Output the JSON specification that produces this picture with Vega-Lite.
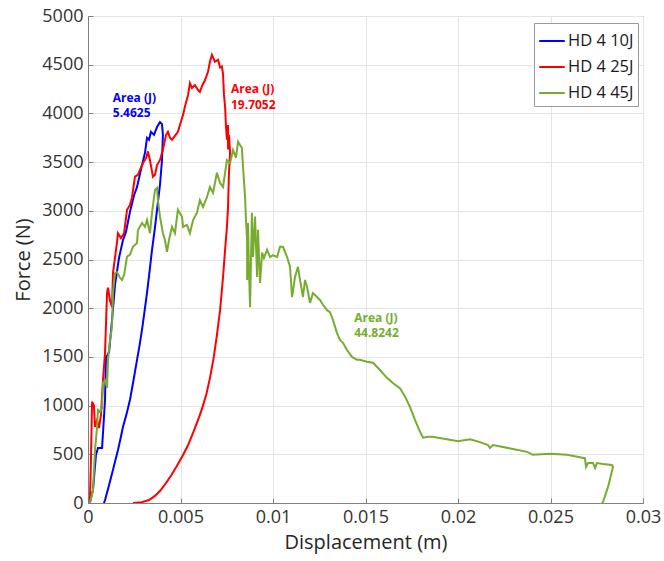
{
  "$schema": "https://vega.github.io/schema/vega-lite/v6.json",
  "width": 555,
  "height": 487,
  "autosize": {"type": "none"},
  "padding": {"left": 88, "top": 16, "right": 21, "bottom": 58},
  "background": "white",
  "config": {
    "view": {"stroke": "#808080", "strokeWidth": 1},
    "font": "Open Sans",
    "axis": {
      "labelFont": "Open Sans", "titleFont": "Open Sans",
      "labelFontSize": 18, "titleFontSize": 20, "labelColor": "#333333", "titleColor": "#262626",
      "titleFontWeight": "normal", "domainColor": "#808080", "tickColor": "#808080",
      "gridColor": "#e4e4e4", "gridWidth": 1
    }
  },
  "datasets": {
    "curves": [
      {"s":"HD 4 10J","i":0,"x":0.0001,"y":0},{"s":"HD 4 10J","i":1,"x":0.00027,"y":134},{"s":"HD 4 10J","i":2,"x":0.00043,"y":493},{"s":"HD 4 10J","i":3,"x":0.00054,"y":565},{"s":"HD 4 10J","i":4,"x":0.00076,"y":565},{"s":"HD 4 10J","i":5,"x":0.00092,"y":1058},{"s":"HD 4 10J","i":6,"x":0.00097,"y":1490},{"s":"HD 4 10J","i":7,"x":0.00114,"y":1550},{"s":"HD 4 10J","i":8,"x":0.0013,"y":1880},{"s":"HD 4 10J","i":9,"x":0.00146,"y":2240},{"s":"HD 4 10J","i":10,"x":0.00168,"y":2520},{"s":"HD 4 10J","i":11,"x":0.00189,"y":2700},{"s":"HD 4 10J","i":12,"x":0.00205,"y":2780},{"s":"HD 4 10J","i":13,"x":0.00227,"y":2990},{"s":"HD 4 10J","i":14,"x":0.00249,"y":3160},{"s":"HD 4 10J","i":15,"x":0.00265,"y":3245},{"s":"HD 4 10J","i":16,"x":0.00286,"y":3420},{"s":"HD 4 10J","i":17,"x":0.00308,"y":3595},{"s":"HD 4 10J","i":18,"x":0.00319,"y":3750},{"s":"HD 4 10J","i":19,"x":0.0033,"y":3730},{"s":"HD 4 10J","i":20,"x":0.0034,"y":3810},{"s":"HD 4 10J","i":21,"x":0.00357,"y":3780},{"s":"HD 4 10J","i":22,"x":0.00373,"y":3860},{"s":"HD 4 10J","i":23,"x":0.00389,"y":3910},{"s":"HD 4 10J","i":24,"x":0.004,"y":3890},{"s":"HD 4 10J","i":25,"x":0.00405,"y":3780},{"s":"HD 4 10J","i":26,"x":0.004,"y":3520},{"s":"HD 4 10J","i":27,"x":0.00389,"y":3265},{"s":"HD 4 10J","i":28,"x":0.00373,"y":3010},{"s":"HD 4 10J","i":29,"x":0.0036,"y":2800},{"s":"HD 4 10J","i":30,"x":0.00346,"y":2600},{"s":"HD 4 10J","i":31,"x":0.00333,"y":2380},{"s":"HD 4 10J","i":32,"x":0.00319,"y":2160},{"s":"HD 4 10J","i":33,"x":0.00305,"y":1960},{"s":"HD 4 10J","i":34,"x":0.00292,"y":1780},{"s":"HD 4 10J","i":35,"x":0.00278,"y":1610},{"s":"HD 4 10J","i":36,"x":0.00265,"y":1470},{"s":"HD 4 10J","i":37,"x":0.00246,"y":1260},{"s":"HD 4 10J","i":38,"x":0.00227,"y":1060},{"s":"HD 4 10J","i":39,"x":0.00208,"y":910},{"s":"HD 4 10J","i":40,"x":0.00189,"y":780},{"s":"HD 4 10J","i":41,"x":0.00175,"y":655},{"s":"HD 4 10J","i":42,"x":0.00162,"y":545},{"s":"HD 4 10J","i":43,"x":0.00148,"y":440},{"s":"HD 4 10J","i":44,"x":0.00135,"y":340},{"s":"HD 4 10J","i":45,"x":0.00124,"y":260},{"s":"HD 4 10J","i":46,"x":0.00114,"y":185},{"s":"HD 4 10J","i":47,"x":0.00102,"y":100},{"s":"HD 4 10J","i":48,"x":0.00092,"y":30},{"s":"HD 4 10J","i":49,"x":0.00086,"y":0},

      {"s":"HD 4 25J","i":0,"x":0.0001,"y":0},{"s":"HD 4 25J","i":1,"x":0.00016,"y":440},{"s":"HD 4 25J","i":2,"x":0.00022,"y":1040},{"s":"HD 4 25J","i":3,"x":0.00032,"y":1000},{"s":"HD 4 25J","i":4,"x":0.00038,"y":780},{"s":"HD 4 25J","i":5,"x":0.00049,"y":850},{"s":"HD 4 25J","i":6,"x":0.00059,"y":770},{"s":"HD 4 25J","i":7,"x":0.0007,"y":900},{"s":"HD 4 25J","i":8,"x":0.00081,"y":1260},{"s":"HD 4 25J","i":9,"x":0.00092,"y":1540},{"s":"HD 4 25J","i":10,"x":0.00103,"y":2160},{"s":"HD 4 25J","i":11,"x":0.00108,"y":2210},{"s":"HD 4 25J","i":12,"x":0.00119,"y":2080},{"s":"HD 4 25J","i":13,"x":0.0013,"y":2010},{"s":"HD 4 25J","i":14,"x":0.00135,"y":2360},{"s":"HD 4 25J","i":15,"x":0.00157,"y":2680},{"s":"HD 4 25J","i":16,"x":0.00162,"y":2770},{"s":"HD 4 25J","i":17,"x":0.00178,"y":2720},{"s":"HD 4 25J","i":18,"x":0.00195,"y":2770},{"s":"HD 4 25J","i":19,"x":0.00211,"y":3010},{"s":"HD 4 25J","i":20,"x":0.00227,"y":3060},{"s":"HD 4 25J","i":21,"x":0.00238,"y":3140},{"s":"HD 4 25J","i":22,"x":0.00254,"y":3350},{"s":"HD 4 25J","i":23,"x":0.0027,"y":3370},{"s":"HD 4 25J","i":24,"x":0.00281,"y":3420},{"s":"HD 4 25J","i":25,"x":0.00297,"y":3490},{"s":"HD 4 25J","i":26,"x":0.00314,"y":3540},{"s":"HD 4 25J","i":27,"x":0.00324,"y":3610},{"s":"HD 4 25J","i":28,"x":0.00335,"y":3520},{"s":"HD 4 25J","i":29,"x":0.00351,"y":3350},{"s":"HD 4 25J","i":30,"x":0.00362,"y":3370},{"s":"HD 4 25J","i":31,"x":0.00373,"y":3470},{"s":"HD 4 25J","i":32,"x":0.00389,"y":3520},{"s":"HD 4 25J","i":33,"x":0.00405,"y":3630},{"s":"HD 4 25J","i":34,"x":0.00422,"y":3780},{"s":"HD 4 25J","i":35,"x":0.00432,"y":3810},{"s":"HD 4 25J","i":36,"x":0.00443,"y":3750},{"s":"HD 4 25J","i":37,"x":0.00454,"y":3730},{"s":"HD 4 25J","i":38,"x":0.0047,"y":3770},{"s":"HD 4 25J","i":39,"x":0.00486,"y":3810},{"s":"HD 4 25J","i":40,"x":0.00497,"y":3880},{"s":"HD 4 25J","i":41,"x":0.00514,"y":3985},{"s":"HD 4 25J","i":42,"x":0.00524,"y":4070},{"s":"HD 4 25J","i":43,"x":0.00541,"y":4190},{"s":"HD 4 25J","i":44,"x":0.00551,"y":4310},{"s":"HD 4 25J","i":45,"x":0.00562,"y":4260},{"s":"HD 4 25J","i":46,"x":0.00578,"y":4290},{"s":"HD 4 25J","i":47,"x":0.00595,"y":4240},{"s":"HD 4 25J","i":48,"x":0.00605,"y":4220},{"s":"HD 4 25J","i":49,"x":0.00616,"y":4280},{"s":"HD 4 25J","i":50,"x":0.00632,"y":4340},{"s":"HD 4 25J","i":51,"x":0.00649,"y":4430},{"s":"HD 4 25J","i":52,"x":0.00659,"y":4530},{"s":"HD 4 25J","i":53,"x":0.0067,"y":4600},{"s":"HD 4 25J","i":54,"x":0.00686,"y":4530},{"s":"HD 4 25J","i":55,"x":0.00703,"y":4550},{"s":"HD 4 25J","i":56,"x":0.00714,"y":4470},{"s":"HD 4 25J","i":57,"x":0.00724,"y":4480},{"s":"HD 4 25J","i":58,"x":0.0073,"y":4400},{"s":"HD 4 25J","i":59,"x":0.00735,"y":4190},{"s":"HD 4 25J","i":60,"x":0.00741,"y":4070},{"s":"HD 4 25J","i":61,"x":0.00746,"y":3860},{"s":"HD 4 25J","i":62,"x":0.00751,"y":3730},{"s":"HD 4 25J","i":63,"x":0.00757,"y":3880},{"s":"HD 4 25J","i":64,"x":0.00757,"y":3630},{"s":"HD 4 25J","i":65,"x":0.00762,"y":3780},{"s":"HD 4 25J","i":66,"x":0.00768,"y":3600},{"s":"HD 4 25J","i":67,"x":0.00762,"y":3390},{"s":"HD 4 25J","i":68,"x":0.00757,"y":3040},{"s":"HD 4 25J","i":69,"x":0.00751,"y":2835},{"s":"HD 4 25J","i":70,"x":0.00741,"y":2600},{"s":"HD 4 25J","i":71,"x":0.0073,"y":2320},{"s":"HD 4 25J","i":72,"x":0.00714,"y":1980},{"s":"HD 4 25J","i":73,"x":0.00697,"y":1725},{"s":"HD 4 25J","i":74,"x":0.0068,"y":1500},{"s":"HD 4 25J","i":75,"x":0.0066,"y":1290},{"s":"HD 4 25J","i":76,"x":0.0064,"y":1120},{"s":"HD 4 25J","i":77,"x":0.0062,"y":990},{"s":"HD 4 25J","i":78,"x":0.006,"y":880},{"s":"HD 4 25J","i":79,"x":0.0057,"y":730},{"s":"HD 4 25J","i":80,"x":0.0054,"y":590},{"s":"HD 4 25J","i":81,"x":0.0051,"y":480},{"s":"HD 4 25J","i":82,"x":0.0048,"y":380},{"s":"HD 4 25J","i":83,"x":0.0045,"y":285},{"s":"HD 4 25J","i":84,"x":0.0042,"y":200},{"s":"HD 4 25J","i":85,"x":0.0039,"y":125},{"s":"HD 4 25J","i":86,"x":0.0036,"y":70},{"s":"HD 4 25J","i":87,"x":0.0033,"y":30},{"s":"HD 4 25J","i":88,"x":0.0029,"y":8},{"s":"HD 4 25J","i":89,"x":0.00243,"y":0},

      {"s":"HD 4 45J","i":0,"x":0.0001,"y":0},{"s":"HD 4 45J","i":1,"x":0.00027,"y":130},{"s":"HD 4 45J","i":2,"x":0.00038,"y":545},{"s":"HD 4 45J","i":3,"x":0.00049,"y":780},{"s":"HD 4 45J","i":4,"x":0.00054,"y":955},{"s":"HD 4 45J","i":5,"x":0.00065,"y":935},{"s":"HD 4 45J","i":6,"x":0.00076,"y":975},{"s":"HD 4 45J","i":7,"x":0.00081,"y":1230},{"s":"HD 4 45J","i":8,"x":0.00092,"y":1260},{"s":"HD 4 45J","i":9,"x":0.00103,"y":1180},{"s":"HD 4 45J","i":10,"x":0.00108,"y":1470},{"s":"HD 4 45J","i":11,"x":0.00119,"y":1675},{"s":"HD 4 45J","i":12,"x":0.0013,"y":1810},{"s":"HD 4 45J","i":13,"x":0.00135,"y":2160},{"s":"HD 4 45J","i":14,"x":0.00146,"y":2360},{"s":"HD 4 45J","i":15,"x":0.00157,"y":2370},{"s":"HD 4 45J","i":16,"x":0.00173,"y":2310},{"s":"HD 4 45J","i":17,"x":0.00184,"y":2290},{"s":"HD 4 45J","i":18,"x":0.00195,"y":2340},{"s":"HD 4 45J","i":19,"x":0.00211,"y":2530},{"s":"HD 4 45J","i":20,"x":0.00227,"y":2550},{"s":"HD 4 45J","i":21,"x":0.00243,"y":2630},{"s":"HD 4 45J","i":22,"x":0.00265,"y":2670},{"s":"HD 4 45J","i":23,"x":0.0027,"y":2800},{"s":"HD 4 45J","i":24,"x":0.00292,"y":2875},{"s":"HD 4 45J","i":25,"x":0.00308,"y":2835},{"s":"HD 4 45J","i":26,"x":0.00319,"y":2905},{"s":"HD 4 45J","i":27,"x":0.00335,"y":2770},{"s":"HD 4 45J","i":28,"x":0.00346,"y":2980},{"s":"HD 4 45J","i":29,"x":0.00362,"y":3215},{"s":"HD 4 45J","i":30,"x":0.00373,"y":3235},{"s":"HD 4 45J","i":31,"x":0.00378,"y":3110},{"s":"HD 4 45J","i":32,"x":0.00389,"y":2940},{"s":"HD 4 45J","i":33,"x":0.00405,"y":2770},{"s":"HD 4 45J","i":34,"x":0.00416,"y":2700},{"s":"HD 4 45J","i":35,"x":0.00427,"y":2580},{"s":"HD 4 45J","i":36,"x":0.00438,"y":2700},{"s":"HD 4 45J","i":37,"x":0.00454,"y":2835},{"s":"HD 4 45J","i":38,"x":0.0047,"y":2770},{"s":"HD 4 45J","i":39,"x":0.00486,"y":3010},{"s":"HD 4 45J","i":40,"x":0.00508,"y":2940},{"s":"HD 4 45J","i":41,"x":0.00514,"y":2835},{"s":"HD 4 45J","i":42,"x":0.00535,"y":2855},{"s":"HD 4 45J","i":43,"x":0.00551,"y":2770},{"s":"HD 4 45J","i":44,"x":0.00568,"y":2905},{"s":"HD 4 45J","i":45,"x":0.00589,"y":2980},{"s":"HD 4 45J","i":46,"x":0.00605,"y":3110},{"s":"HD 4 45J","i":47,"x":0.00622,"y":3040},{"s":"HD 4 45J","i":48,"x":0.00643,"y":3140},{"s":"HD 4 45J","i":49,"x":0.00659,"y":3245},{"s":"HD 4 45J","i":50,"x":0.00676,"y":3185},{"s":"HD 4 45J","i":51,"x":0.00697,"y":3390},{"s":"HD 4 45J","i":52,"x":0.00714,"y":3285},{"s":"HD 4 45J","i":53,"x":0.0073,"y":3245},{"s":"HD 4 45J","i":54,"x":0.00751,"y":3520},{"s":"HD 4 45J","i":55,"x":0.00768,"y":3490},{"s":"HD 4 45J","i":56,"x":0.00784,"y":3625},{"s":"HD 4 45J","i":57,"x":0.008,"y":3545},{"s":"HD 4 45J","i":58,"x":0.00811,"y":3710},{"s":"HD 4 45J","i":59,"x":0.00822,"y":3675},{"s":"HD 4 45J","i":60,"x":0.00832,"y":3645},{"s":"HD 4 45J","i":61,"x":0.00838,"y":3450},{"s":"HD 4 45J","i":62,"x":0.00849,"y":3140},{"s":"HD 4 45J","i":63,"x":0.00854,"y":2905},{"s":"HD 4 45J","i":64,"x":0.0086,"y":2700},{"s":"HD 4 45J","i":65,"x":0.0086,"y":2290},{"s":"HD 4 45J","i":66,"x":0.00865,"y":2875},{"s":"HD 4 45J","i":67,"x":0.0087,"y":2395},{"s":"HD 4 45J","i":68,"x":0.00876,"y":2010},{"s":"HD 4 45J","i":69,"x":0.00886,"y":2980},{"s":"HD 4 45J","i":70,"x":0.00892,"y":2525},{"s":"HD 4 45J","i":71,"x":0.00903,"y":2940},{"s":"HD 4 45J","i":72,"x":0.00914,"y":2320},{"s":"HD 4 45J","i":73,"x":0.00919,"y":2805},{"s":"HD 4 45J","i":74,"x":0.0093,"y":2260},{"s":"HD 4 45J","i":75,"x":0.00941,"y":2570},{"s":"HD 4 45J","i":76,"x":0.00951,"y":2515},{"s":"HD 4 45J","i":77,"x":0.00968,"y":2600},{"s":"HD 4 45J","i":78,"x":0.00984,"y":2525},{"s":"HD 4 45J","i":79,"x":0.01,"y":2545},{"s":"HD 4 45J","i":80,"x":0.01022,"y":2525},{"s":"HD 4 45J","i":81,"x":0.01038,"y":2630},{"s":"HD 4 45J","i":82,"x":0.01054,"y":2630},{"s":"HD 4 45J","i":83,"x":0.01076,"y":2525},{"s":"HD 4 45J","i":84,"x":0.01092,"y":2425},{"s":"HD 4 45J","i":85,"x":0.01103,"y":2115},{"s":"HD 4 45J","i":86,"x":0.01119,"y":2320},{"s":"HD 4 45J","i":87,"x":0.01135,"y":2425},{"s":"HD 4 45J","i":88,"x":0.01146,"y":2290},{"s":"HD 4 45J","i":89,"x":0.01162,"y":2115},{"s":"HD 4 45J","i":90,"x":0.01173,"y":2290},{"s":"HD 4 45J","i":91,"x":0.01184,"y":2220},{"s":"HD 4 45J","i":92,"x":0.012,"y":2055},{"s":"HD 4 45J","i":93,"x":0.01216,"y":2155},{"s":"HD 4 45J","i":94,"x":0.01238,"y":2115},{"s":"HD 4 45J","i":95,"x":0.01254,"y":2085},{"s":"HD 4 45J","i":96,"x":0.0127,"y":2035},{"s":"HD 4 45J","i":97,"x":0.01292,"y":1980},{"s":"HD 4 45J","i":98,"x":0.01308,"y":1960},{"s":"HD 4 45J","i":99,"x":0.01324,"y":1880},{"s":"HD 4 45J","i":100,"x":0.01346,"y":1745},{"s":"HD 4 45J","i":101,"x":0.01362,"y":1675},{"s":"HD 4 45J","i":102,"x":0.01378,"y":1645},{"s":"HD 4 45J","i":103,"x":0.014,"y":1570},{"s":"HD 4 45J","i":104,"x":0.01427,"y":1500},{"s":"HD 4 45J","i":105,"x":0.01454,"y":1470},{"s":"HD 4 45J","i":106,"x":0.0147,"y":1470},{"s":"HD 4 45J","i":107,"x":0.01508,"y":1450},{"s":"HD 4 45J","i":108,"x":0.01541,"y":1440},{"s":"HD 4 45J","i":109,"x":0.01578,"y":1365},{"s":"HD 4 45J","i":110,"x":0.01616,"y":1285},{"s":"HD 4 45J","i":111,"x":0.01649,"y":1230},{"s":"HD 4 45J","i":112,"x":0.01686,"y":1180},{"s":"HD 4 45J","i":113,"x":0.01714,"y":1090},{"s":"HD 4 45J","i":114,"x":0.01741,"y":985},{"s":"HD 4 45J","i":115,"x":0.01768,"y":850},{"s":"HD 4 45J","i":116,"x":0.01795,"y":730},{"s":"HD 4 45J","i":117,"x":0.01811,"y":670},{"s":"HD 4 45J","i":118,"x":0.01838,"y":680},{"s":"HD 4 45J","i":119,"x":0.01865,"y":680},{"s":"HD 4 45J","i":120,"x":0.01892,"y":670},{"s":"HD 4 45J","i":121,"x":0.0194,"y":655},{"s":"HD 4 45J","i":122,"x":0.02,"y":635},{"s":"HD 4 45J","i":123,"x":0.02065,"y":655},{"s":"HD 4 45J","i":124,"x":0.02119,"y":625},{"s":"HD 4 45J","i":125,"x":0.02162,"y":595},{"s":"HD 4 45J","i":126,"x":0.02173,"y":565},{"s":"HD 4 45J","i":127,"x":0.02189,"y":595},{"s":"HD 4 45J","i":128,"x":0.02243,"y":575},{"s":"HD 4 45J","i":129,"x":0.02297,"y":555},{"s":"HD 4 45J","i":130,"x":0.02373,"y":525},{"s":"HD 4 45J","i":131,"x":0.02405,"y":495},{"s":"HD 4 45J","i":132,"x":0.02497,"y":505},{"s":"HD 4 45J","i":133,"x":0.02589,"y":495},{"s":"HD 4 45J","i":134,"x":0.02659,"y":470},{"s":"HD 4 45J","i":135,"x":0.02686,"y":460},{"s":"HD 4 45J","i":136,"x":0.02692,"y":370},{"s":"HD 4 45J","i":137,"x":0.02703,"y":410},{"s":"HD 4 45J","i":138,"x":0.0273,"y":410},{"s":"HD 4 45J","i":139,"x":0.02741,"y":360},{"s":"HD 4 45J","i":140,"x":0.02751,"y":410},{"s":"HD 4 45J","i":141,"x":0.02784,"y":400},{"s":"HD 4 45J","i":142,"x":0.02832,"y":390},{"s":"HD 4 45J","i":143,"x":0.02838,"y":370},{"s":"HD 4 45J","i":144,"x":0.02811,"y":165},{"s":"HD 4 45J","i":145,"x":0.02784,"y":10},{"s":"HD 4 45J","i":146,"x":0.02778,"y":0}
    ],
    "notes": [
      {"s":"HD 4 10J","x":0.00134,"y":4121,"t":"Area (J)"},
      {"s":"HD 4 10J","x":0.00134,"y":3961,"t":"5.4625"},
      {"s":"HD 4 25J","x":0.00773,"y":4206,"t":"Area (J)"},
      {"s":"HD 4 25J","x":0.00773,"y":4046,"t":"19.7052"},
      {"s":"HD 4 45J","x":0.01439,"y":1862,"t":"Area (J)"},
      {"s":"HD 4 45J","x":0.01439,"y":1702,"t":"44.8242"}
    ]
  },
  "layer": [
    {
      "data": {"name": "curves"},
      "mark": {"type": "line", "strokeWidth": 2, "clip": true},
      "encoding": {
        "x": {
          "field": "x", "type": "quantitative",
          "scale": {"domain": [0, 0.03], "nice": false, "zero": false},
          "axis": {"title": "Displacement (m)", "values": [0, 0.005, 0.01, 0.015, 0.02, 0.025, 0.03], "format": "~g", "grid": true, "tickSize": -5, "labelPadding": 10, "titlePadding": 6, "labelFlush": false}
        },
        "y": {
          "field": "y", "type": "quantitative",
          "scale": {"domain": [0, 5000], "nice": false},
          "axis": {"title": "Force (N)", "values": [0, 500, 1000, 1500, 2000, 2500, 3000, 3500, 4000, 4500, 5000], "format": "d", "grid": true, "tickSize": -5, "labelPadding": 10, "titlePadding": 8, "labelFlush": false}
        },
        "color": {
          "field": "s", "type": "nominal",
          "scale": {"domain": ["HD 4 10J", "HD 4 25J", "HD 4 45J"], "range": ["#0000ff", "#ff0000", "#77ac30"]},
          "legend": {
            "title": null, "orient": "none", "legendX": 446, "legendY": 7,
            "symbolType": "stroke", "symbolStrokeWidth": 2, "symbolSize": 650,
            "labelFont": "Open Sans", "labelFontSize": 16.5, "labelColor": "#1a1a1a",
            "strokeColor": "#9a9a9a", "fillColor": "white", "padding": 4, "rowPadding": 3, "labelOffset": 2
          }
        },
        "order": {"field": "i", "type": "quantitative"}
      }
    },
    {
      "data": {"name": "notes"},
      "mark": {"type": "text", "align": "left", "baseline": "alphabetic", "fontWeight": "bold", "fontSize": 12, "font": "Open Sans"},
      "encoding": {
        "x": {"field": "x", "type": "quantitative"},
        "y": {"field": "y", "type": "quantitative"},
        "text": {"field": "t"},
        "color": {"field": "s", "type": "nominal", "legend": null}
      }
    }
  ]
}
